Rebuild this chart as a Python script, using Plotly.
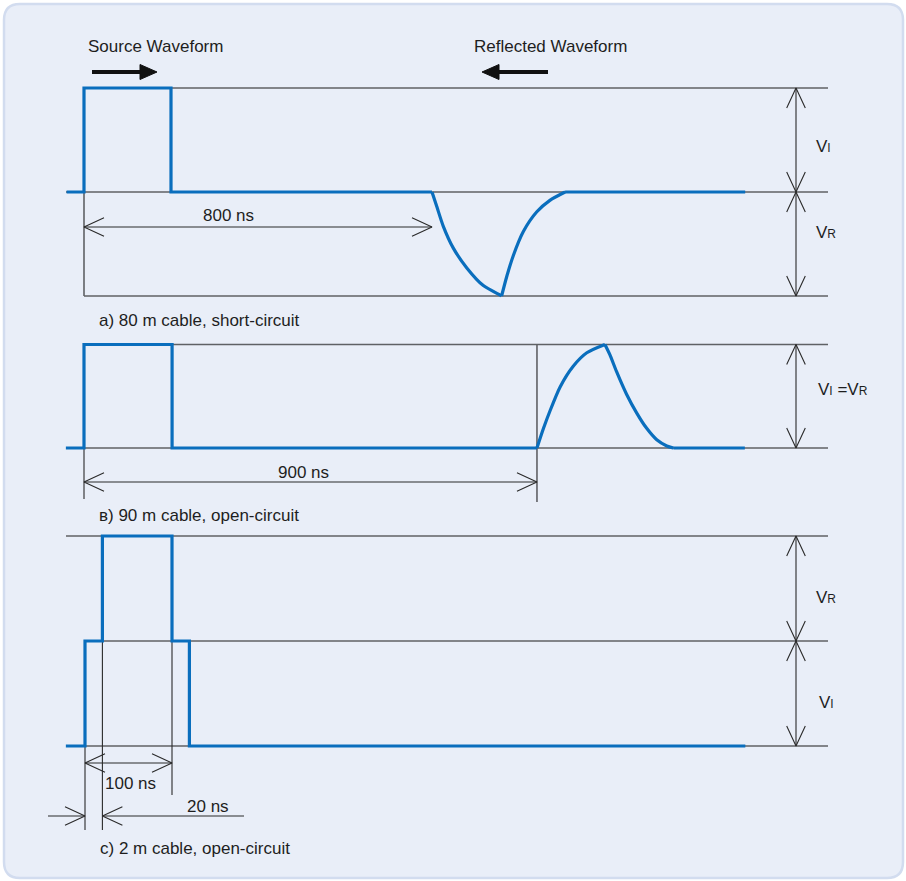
import plotly.graph_objects as go

W, H = 906, 881
BLUE = "#0a6ebd"
GREY = "#5f6165"
DARK = "#2a2a2a"
BG = "#e9eef8"
BORDER = "#d2dcef"
FONT = "Liberation Sans, Arial, Helvetica, sans-serif"
FS = 17

# ---------------- data (time in ns, voltage normalised so V_I = 1) ----------------
# a) 80 m cable, short-circuit
a_src_t = [-40, 0, 0, 200, 200, 800]
a_src_v = [0, 0, 1, 1, 0, 0]
a_fall_t = [800, 811, 826, 849, 880, 918, 956, 960]
a_fall_v = [0, -0.14, -0.33, -0.54, -0.73, -0.90, -0.99, -1.0]
a_rise_t = [960, 972, 987, 1010, 1041, 1071, 1106]
a_rise_v = [-1.0, -0.81, -0.61, -0.38, -0.19, -0.08, 0]
a_tail_t = [1106, 1520]
a_tail_v = [0, 0]
a_pulse_ns = 200
a_delay_ns = 800

# b) 90 m cable, open-circuit
b_src_t = [-36, 0, 0, 175, 175, 900]
b_src_v = [0, 0, 1, 1, 0, 0]
b_rise_t = [900, 913, 926, 946, 972, 999, 1035]
b_rise_v = [0, 0.19, 0.36, 0.59, 0.79, 0.92, 1.0]
b_fall_t = [1035, 1045, 1058, 1078, 1098, 1118, 1138, 1158, 1171]
b_fall_v = [1.0, 0.90, 0.74, 0.52, 0.34, 0.19, 0.08, 0.02, 0]
b_tail_t = [1171, 1313]
b_tail_v = [0, 0]
b_pulse_ns = 175
b_delay_ns = 900

# c) 2 m cable, open-circuit
c_t = [-22, 0, 0, 20, 20, 100, 100, 120, 120, 759]
c_v = [0, 0, 1, 1, 2, 2, 1, 1, 0, 0]
c_width_ns = 100
c_delay_ns = 20

labels = {
    "a": "a) 80 m cable, short-circuit",
    "b": "в) 90 m cable, open-circuit",
    "c": "c) 2 m cable, open-circuit",
}
dim_text = {"a": "800 ns", "b": "900 ns", "c100": "100 ns", "c20": "20 ns"}
header_src = "Source Waveform"
header_ref = "Reflected Waveform"

# ---------------- layout of the three panels (pixel geometry) ----------------
PAN = {
    "a": dict(ax="", x0=84, k=0.435, y0=192, p=104),
    "b": dict(ax="2", x0=84, k=0.5033, y0=448, p=103.5),
    "c": dict(ax="3", x0=85, k=0.87, y0=746, p=105),
}
LEFT_PX, RIGHT_PX, DIM_PX = 66, 828, 796
HEAD_L, HEAD_W = 20, 9.3


def tx(pan, px):
    return (px - pan["x0"]) / pan["k"]


def vy(pan, py):
    return (pan["y0"] - py) / pan["p"]


fig = go.Figure()


def add_line(pan, xs, ys, color, width, shape="linear", fill=None):
    fig.add_trace(go.Scatter(
        x=xs, y=ys, mode="lines",
        line=dict(color=color, width=width, shape=shape, smoothing=0.7),
        fill=fill, fillcolor=color if fill else None,
        xaxis="x" + pan["ax"], yaxis="y" + pan["ax"],
        hoverinfo="skip", showlegend=False))


def head(pan, xs, ys, t, v, dx, dy):
    # open V-shaped arrow head with tip at (t, v); (dx, dy) pixel direction (y up)
    px, py = -dy, dx
    bx = [(-HEAD_L * dx + s * HEAD_W * px) / pan["k"] for s in (1, -1)]
    by = [(-HEAD_L * dy + s * HEAD_W * py) / pan["p"] for s in (1, -1)]
    xs += [t + bx[0], t, t + bx[1], None]
    ys += [v + by[0], v, v + by[1], None]


def seg(xs, ys, x1, y1, x2, y2):
    xs += [x1, x2, None]
    ys += [y1, y2, None]


# ---------------- background card ----------------
def P(x, y):
    return f"{x / W:.5f},{1 - y / H:.5f}"


r = 16
x1, y1, x2, y2 = 4, 4, 903, 878
path = (f"M {P(x1 + r, y1)} L {P(x2 - r, y1)} Q {P(x2, y1)} {P(x2, y1 + r)} "
        f"L {P(x2, y2 - r)} Q {P(x2, y2)} {P(x2 - r, y2)} L {P(x1 + r, y2)} "
        f"Q {P(x1, y2)} {P(x1, y2 - r)} L {P(x1, y1 + r)} Q {P(x1, y1)} {P(x1 + r, y1)} Z")
fig.add_shape(type="path", path=path, xref="paper", yref="paper",
              fillcolor=BG, line=dict(color=BORDER, width=2.5), layer="below")

annots = []


def text(pan, px, py, s, anchor="left", size=FS):
    annots.append(dict(x=tx(pan, px), y=vy(pan, py), text=s, showarrow=False,
                       xref="x" + pan["ax"], yref="y" + pan["ax"],
                       xanchor=anchor, yanchor="middle",
                       font=dict(family=FONT, size=size, color="#1e1e1e")))


def VS(sub):
    return f"V<span style='font-size:12px'>{sub}</span>"


# ---------------- panel a ----------------
pa = PAN["a"]
R = tx(pa, RIGHT_PX)
gx, gy = [], []
seg(gx, gy, a_pulse_ns, 1, R, 1)
seg(gx, gy, tx(pa, LEFT_PX), 0, R, 0)
seg(gx, gy, 0, -1, R, -1)
seg(gx, gy, 0, 0, 0, -1)
add_line(pa, gx, gy, GREY, 1.6)

dx_, dy_ = [], []
vd = vy(pa, 227)
seg(dx_, dy_, 0, vd, a_delay_ns, vd)
head(pa, dx_, dy_, 0, vd, -1, 0)
head(pa, dx_, dy_, a_delay_ns, vd, 1, 0)
td = tx(pa, DIM_PX)
seg(dx_, dy_, td, 1, td, -1)
head(pa, dx_, dy_, td, 1, 0, 1)
head(pa, dx_, dy_, td, 0, 0, -1)
head(pa, dx_, dy_, td, 0, 0, 1)
head(pa, dx_, dy_, td, -1, 0, -1)
add_line(pa, dx_, dy_, DARK, 1.1)

add_line(pa, a_src_t, a_src_v, BLUE, 3.2)
add_line(pa, a_fall_t, a_fall_v, BLUE, 3.2, "spline")
add_line(pa, a_rise_t, a_rise_v, BLUE, 3.2, "spline")
add_line(pa, a_tail_t, a_tail_v, BLUE, 3.2)

# header arrows (thick, filled heads)
va = vy(pa, 72)
for tail_px, tip_px in ((92, 157), (548, 482)):
    d = 1 if tip_px > tail_px else -1
    base_px = tip_px - d * 17
    add_line(pa, [tx(pa, tail_px), tx(pa, base_px + d * 1)], [va, va], "#111111", 4.2)
    add_line(pa, [tx(pa, base_px), tx(pa, tip_px), tx(pa, base_px), tx(pa, base_px)],
             [va + 7.5 / pa["p"], va, va - 7.5 / pa["p"], va + 7.5 / pa["p"]],
             "#111111", 1, fill="toself")

text(pa, 155, 46, header_src, "center")
text(pa, 550, 46, header_ref, "center")
text(pa, 228, 215, dim_text["a"], "center")
text(pa, 814, 146, VS("I"))
text(pa, 814, 232, VS("R"))
text(pa, 97, 320, labels["a"])

# ---------------- panel b ----------------
pb = PAN["b"]
R = tx(pb, RIGHT_PX)
gx, gy = [], []
seg(gx, gy, b_pulse_ns, 1, R, 1)
seg(gx, gy, tx(pb, LEFT_PX), 0, R, 0)
seg(gx, gy, b_delay_ns, 1, b_delay_ns, vy(pb, 502))
add_line(pb, gx, gy, GREY, 1.6)

dx_, dy_ = [], []
seg(dx_, dy_, 0, 0, 0, vy(pb, 499))
vd = vy(pb, 482)
seg(dx_, dy_, 0, vd, b_delay_ns, vd)
head(pb, dx_, dy_, 0, vd, -1, 0)
head(pb, dx_, dy_, b_delay_ns, vd, 1, 0)
td = tx(pb, DIM_PX)
seg(dx_, dy_, td, 1, td, 0)
head(pb, dx_, dy_, td, 1, 0, 1)
head(pb, dx_, dy_, td, 0, 0, -1)
add_line(pb, dx_, dy_, DARK, 1.1)

add_line(pb, b_src_t, b_src_v, BLUE, 3.2)
add_line(pb, b_rise_t, b_rise_v, BLUE, 3.2, "spline")
add_line(pb, b_fall_t, b_fall_v, BLUE, 3.2, "spline")
add_line(pb, b_tail_t, b_tail_v, BLUE, 3.2)

text(pb, 303, 472, dim_text["b"], "center")
text(pb, 816, 389, VS("I") + " =" + VS("R"))
text(pb, 97, 515, labels["b"])

# ---------------- panel c ----------------
pc = PAN["c"]
R = tx(pc, RIGHT_PX)
gx, gy = [], []
seg(gx, gy, tx(pc, LEFT_PX), 2, R, 2)
seg(gx, gy, 0, 1, R, 1)
seg(gx, gy, tx(pc, LEFT_PX), 0, R, 0)
add_line(pc, gx, gy, GREY, 1.6)

dx_, dy_ = [], []
seg(dx_, dy_, 0, 0, 0, vy(pc, 830))
seg(dx_, dy_, c_delay_ns, 1, c_delay_ns, vy(pc, 830))
seg(dx_, dy_, c_width_ns, 1, c_width_ns, vy(pc, 795))
vd = vy(pc, 763)
seg(dx_, dy_, 0, vd, c_width_ns, vd)
head(pc, dx_, dy_, 0, vd, -1, 0)
head(pc, dx_, dy_, c_width_ns, vd, 1, 0)
v20 = vy(pc, 816)
seg(dx_, dy_, tx(pc, 48), v20, 0, v20)
head(pc, dx_, dy_, 0, v20, 1, 0)
seg(dx_, dy_, c_delay_ns, v20, tx(pc, 244), v20)
head(pc, dx_, dy_, c_delay_ns, v20, -1, 0)
td = tx(pc, DIM_PX)
seg(dx_, dy_, td, 2, td, 0)
head(pc, dx_, dy_, td, 2, 0, 1)
head(pc, dx_, dy_, td, 1, 0, -1)
head(pc, dx_, dy_, td, 1, 0, 1)
head(pc, dx_, dy_, td, 0, 0, -1)
add_line(pc, dx_, dy_, DARK, 1.1)

add_line(pc, c_t, c_v, BLUE, 3.2)

text(pc, 103, 783, dim_text["c100"])
text(pc, 208, 806, dim_text["c20"], "center")
text(pc, 814, 597, VS("R"))
text(pc, 817, 702, VS("I"))
text(pc, 98, 848, labels["c"])

# ---------------- axes ----------------
layout_axes = {}
for pan in PAN.values():
    xr = [tx(pan, 0), tx(pan, W)]
    yr = [vy(pan, H), vy(pan, 0)]
    a = pan["ax"]
    layout_axes["xaxis" + a] = dict(range=xr, domain=[0, 1], visible=False,
                                    anchor="y" + a, fixedrange=True)
    layout_axes["yaxis" + a] = dict(range=yr, domain=[0, 1], visible=False,
                                    anchor="x" + a, fixedrange=True)

fig.update_layout(
    width=W, height=H, autosize=False,
    margin=dict(l=0, r=0, t=0, b=0, pad=0),
    paper_bgcolor="white", plot_bgcolor="rgba(0,0,0,0)",
    annotations=annots, showlegend=False,
    **layout_axes,
)

fig.write_html("out.html", config={"displayModeBar": False},
               post_script="document.body.style.margin='0';document.body.style.overflow='hidden';")
